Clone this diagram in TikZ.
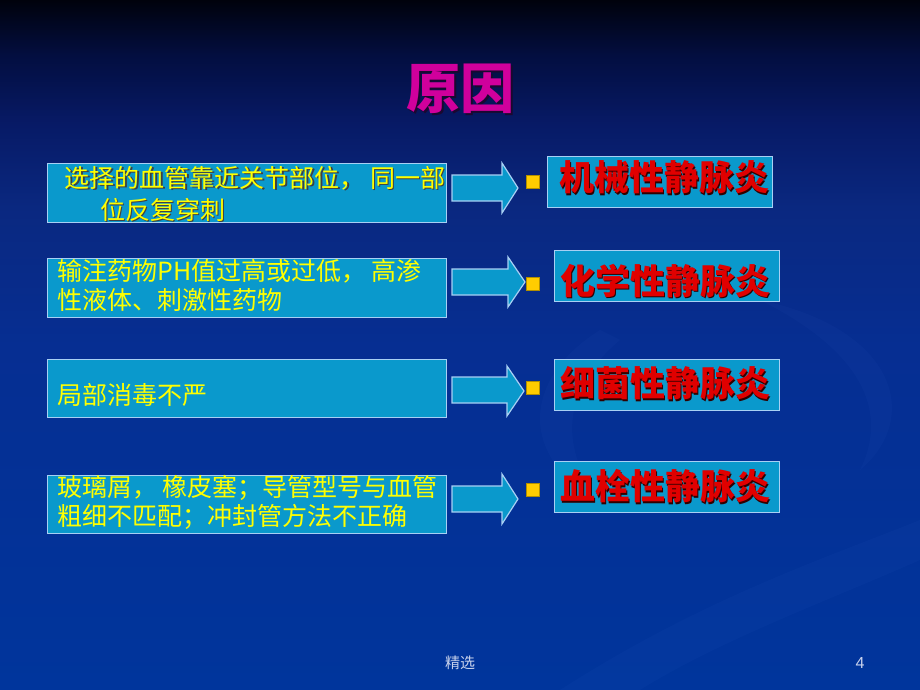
\documentclass[tikz,border=0pt]{standalone}
\usepackage{fontspec}
\newfontfamily\cjk{Noto Sans CJK SC}
\newfontfamily\latin{Liberation Sans}
\definecolor{bgtop}{HTML}{00020C}
\definecolor{bga}{HTML}{030E40}
\definecolor{bgb}{HTML}{071A66}
\definecolor{bgc}{HTML}{0A2880}
\definecolor{bgd}{HTML}{062E92}
\definecolor{bgbot}{HTML}{00359C}
\definecolor{boxfill}{HTML}{0A99CC}
\definecolor{boxedge}{HTML}{A8D0F4}
\definecolor{ytext}{HTML}{FFFF00}
\definecolor{rtxt}{HTML}{E00000}
\definecolor{rshad}{HTML}{300000}
\definecolor{ttl}{HTML}{D0009C}
\definecolor{tshad}{HTML}{1A0830}
\definecolor{bullet}{HTML}{FFCC00}
\definecolor{foot}{HTML}{C8D2EC}
\definecolor{swirl}{HTML}{3A6AD0}
% the path spans 25bp (bottom) .. 75bp (top) of the shading
\pgfdeclareverticalshading{bgshade}{100bp}{color(0bp)=(bgbot); color(25bp)=(bgbot); color(50bp)=(bgd); color(60bp)=(bgc); color(66bp)=(bgb); color(71bp)=(bga); color(75bp)=(bgtop); color(100bp)=(bgtop)}
% text with a drop shadow, as one box
\newcommand{\shadowed}[4]{\makebox[0pt][l]{\hspace*{#2}\raisebox{-#3}{\textcolor{#1}{#4}}}#4}
\begin{document}
\begin{tikzpicture}[x=1pt,y=-1pt,
  lbox/.style={draw=boxedge, line width=1.2pt, fill=boxfill, anchor=north west, inner sep=0pt},
  rbox/.style={draw=boxedge, line width=1.2pt, fill=boxfill, anchor=north west, inner sep=0pt},
  ltext/.style={anchor=west, inner sep=0pt, text=ytext, font=\cjk\fontsize{25}{28}\selectfont},
  rtext/.style={inner sep=0pt, text=rtxt, font=\cjk\bfseries\fontsize{35}{40}\selectfont},
  arrowshape/.style={draw=boxedge, line width=1.2pt, fill=boxfill, line join=miter},
  bul/.style={fill=bullet, draw=bullet!70!black, line width=0.4pt, minimum size=13pt, inner sep=0pt},
  swirlband/.style={fill=swirl, fill opacity=0.06, draw=none}
]
\useasboundingbox (0,0) rectangle (920,690);
\shade[shading=bgshade] (0,0) rectangle (920,690);
% faint decorative swirls
\fill[swirlband] (560,690) .. controls (700,600) and (820,560) .. (920,520) -- (920,560) .. controls (830,600) and (720,640) .. (640,690) -- cycle;
\fill[swirlband] (600,330) .. controls (520,380) and (520,460) .. (600,500) .. controls (560,450) and (560,390) .. (620,340) -- cycle;
\fill[swirlband] (760,300) .. controls (900,330) and (920,420) .. (860,470) .. controls (890,410) and (860,350) .. (760,300) -- cycle;

% title
\node[inner sep=0pt, text=ttl, font=\cjk\bfseries\fontsize{54}{60}\selectfont] (title) at (460,90) {\shadowed{tshad}{2pt}{2pt}{原因}};

% left boxes
\node[lbox, minimum width=399pt, minimum height=59pt] (L1) at (47,163) {};
\node[lbox, minimum width=399pt, minimum height=59pt] (L2) at (47,258) {};
\node[lbox, minimum width=399pt, minimum height=58pt] (L3) at (47,359) {};
\node[lbox, minimum width=399pt, minimum height=58pt] (L4) at (47,475) {};

% left texts
\node[ltext] (t1a) at (64.5,178.5) {\shadowed{black!75}{1.3pt}{1.3pt}{选择的血管靠近关节部位， 同一部}};
\node[ltext] (t1b) at (100,210.5) {\shadowed{black!75}{1.3pt}{1.3pt}{位反复穿刺}};
\node[ltext] (t2a) at (57,271) {输注药物PH值过高或过低， 高渗};
\node[ltext] (t2b) at (57,300) {性液体、刺激性药物};
\node[ltext] (t3) at (57,395) {局部消毒不严};
\node[ltext] (t4a) at (57,488) {玻璃屑， 橡皮塞；导管型号与血管};
\node[ltext] (t4b) at (57,517) {粗细不匹配；冲封管方法不正确};

% block arrows
\draw[arrowshape] (452,175) -- (502,175) -- (502,163) -- (518,188) -- (502,213) -- (502,201) -- (452,201) -- cycle;
\draw[arrowshape] (452,269) -- (508,269) -- (508,257) -- (525,282) -- (508,307) -- (508,295) -- (452,295) -- cycle;
\draw[arrowshape] (452,377) -- (507,377) -- (507,366) -- (524,391) -- (507,416) -- (507,403) -- (452,403) -- cycle;
\draw[arrowshape] (452,486) -- (502,486) -- (502,474) -- (518,499) -- (502,524) -- (502,512) -- (452,512) -- cycle;

% bullets
\node[bul] (b1) at (533,182) {};
\node[bul] (b2) at (533,284) {};
\node[bul] (b3) at (533,388) {};
\node[bul] (b4) at (533,490) {};

% right boxes
\node[rbox, minimum width=225pt, minimum height=51pt] (R1) at (547,156) {};
\node[rbox, minimum width=225pt, minimum height=51pt] (R2) at (554,250) {};
\node[rbox, minimum width=225pt, minimum height=51pt] (R3) at (554,359) {};
\node[rbox, minimum width=225pt, minimum height=51pt] (R4) at (554,461) {};

% right texts
\node[rtext] (r1) at (664,178) {\shadowed{rshad}{1.6pt}{1.6pt}{机械性静脉炎}};
\node[rtext] (r2) at (665,281.5) {\shadowed{rshad}{1.6pt}{1.6pt}{化学性静脉炎}};
\node[rtext] (r3) at (665,384) {\shadowed{rshad}{1.6pt}{1.6pt}{细菌性静脉炎}};
\node[rtext] (r4) at (665,487) {\shadowed{rshad}{1.6pt}{1.6pt}{血栓性静脉炎}};

% footer
\node[inner sep=0pt, text=foot, font=\cjk\fontsize{15}{18}\selectfont] (footer) at (460,663) {精选};
\node[inner sep=0pt, text=foot, font=\latin\fontsize{16}{18}\selectfont] (pagenum) at (860,663) {4};
\end{tikzpicture}
\end{document}
